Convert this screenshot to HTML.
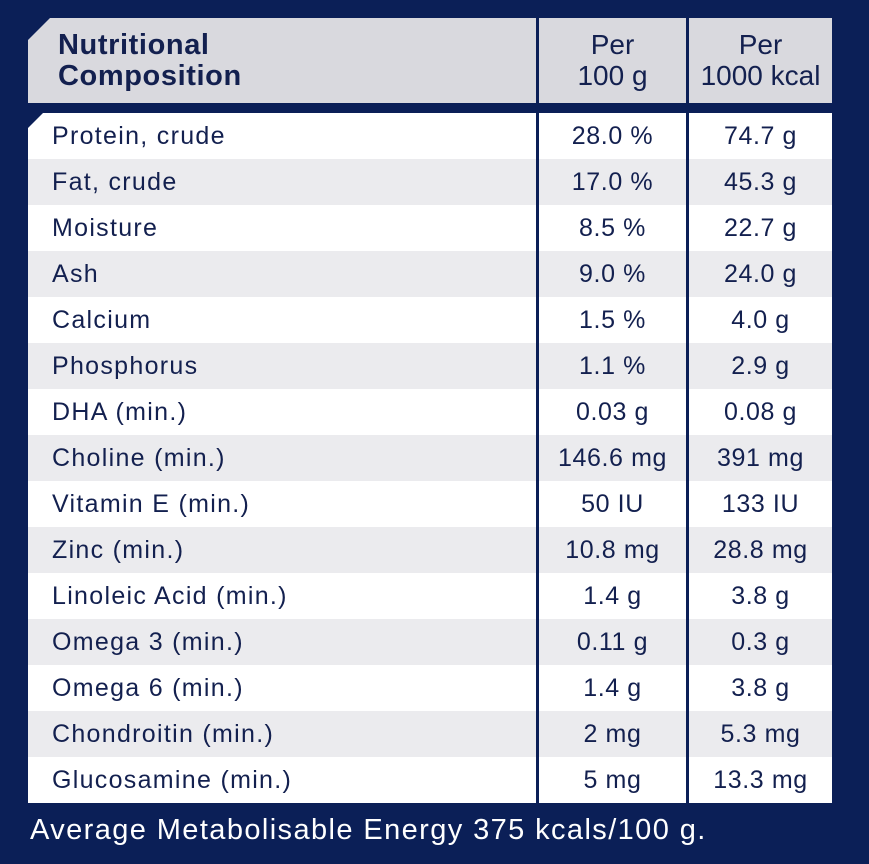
<!DOCTYPE html>
<html><head><meta charset="utf-8"><style>
body{margin:0;width:869px;height:864px;background:#0b1f57;font-family:"Liberation Sans",sans-serif;color:#13204f;position:relative;overflow:hidden}
.hdr{position:absolute;top:18px;height:85px;background:#d9d9de}
.row{position:absolute;height:46px;font-size:25px;line-height:46px;letter-spacing:1.3px;white-space:nowrap}
.foot{position:absolute;left:30px;top:810px;font-size:29px;letter-spacing:1.4px;color:#fff;line-height:40px;white-space:nowrap}
</style></head><body>
<div class="hdr" style="left:28px;width:508px;clip-path:polygon(22px 0,100% 0,100% 100%,0 100%,0 22px)">
<div style="position:absolute;left:30px;top:12px;font-weight:bold;font-size:29px;letter-spacing:0.6px;line-height:31px">Nutritional<br>Composition</div></div>
<div class="hdr" style="left:539px;width:147px;text-align:center;font-size:28px;line-height:31px;padding-top:11px;height:74px">Per<br>100 g</div>
<div class="hdr" style="left:689px;width:143px;text-align:center;font-size:28px;line-height:31px;padding-top:11px;height:74px;white-space:nowrap">Per<br>1000 kcal</div>
<div id="rows"></div>
<div class="foot">Average Metabolisable Energy 375 kcals/100 g.</div>
<script>
const names=["Protein, crude","Fat, crude","Moisture","Ash","Calcium","Phosphorus","DHA (min.)","Choline (min.)","Vitamin E (min.)","Zinc (min.)","Linoleic Acid (min.)","Omega 3 (min.)","Omega 6 (min.)","Chondroitin (min.)","Glucosamine (min.)"];
const per100=["28.0 %","17.0 %","8.5 %","9.0 %","1.5 %","1.1 %","0.03 g","146.6 mg","50 IU","10.8 mg","1.4 g","0.11 g","1.4 g","2 mg","5 mg"];
const per1000=["74.7 g","45.3 g","22.7 g","24.0 g","4.0 g","2.9 g","0.08 g","391 mg","133 IU","28.8 mg","3.8 g","0.3 g","3.8 g","5.3 mg","13.3 mg"];
const R=document.getElementById('rows');
names.forEach((n,i)=>{
 const bg=i%2?'#ebebee':'#fff';
 const top=113+i*46;
 const cells=[[28,508,n,'left'],[539,147,per100[i],'center'],[689,143,per1000[i],'center']];
 cells.forEach((c,j)=>{
  const d=document.createElement('div');
  d.className='row';
  
  
  d.style.left=c[0]+'px';d.style.width=c[1]+'px';d.style.top=top+'px';d.style.background=bg;d.style.textAlign=c[3];
  if(j==0){d.style.paddingLeft='24px';d.style.width=(c[1]-24)+'px';if(i==0)d.style.clipPath='polygon(15px 0,100% 0,100% 100%,0 100%,0 15px)';}
  else{d.style.letterSpacing='0.6px';}
  d.textContent=c[2];
  R.appendChild(d);
 });
});
</script>
</body></html>
